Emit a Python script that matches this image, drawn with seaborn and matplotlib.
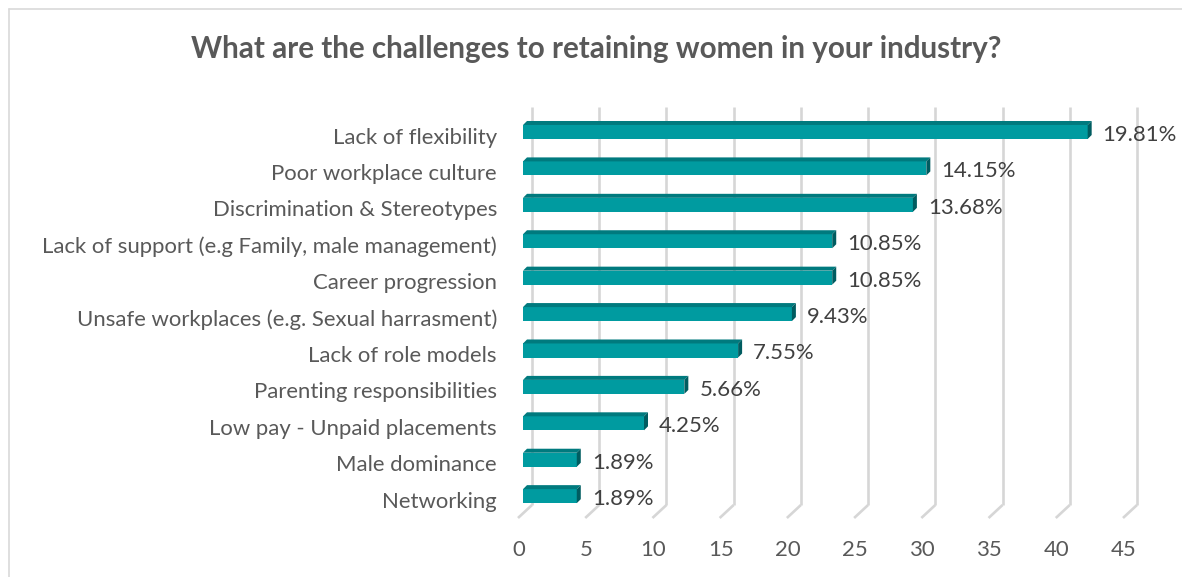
import matplotlib
matplotlib.use("Agg")
import matplotlib.pyplot as plt
import seaborn as sns
import pandas as pd
from matplotlib.transforms import offset_copy, blended_transform_factory
from matplotlib.patches import Polygon
from matplotlib.lines import Line2D

# ---------------- data ----------------
categories = [
    "Lack of flexibility",
    "Poor workplace culture",
    "Discrimination & Stereotypes",
    "Lack of support (e.g Family, male management)",
    "Career progression",
    "Unsafe workplaces (e.g. Sexual harrasment)",
    "Lack of role models",
    "Parenting responsibilities",
    "Low pay - Unpaid placements",
    "Male dominance",
    "Networking",
]
counts = [42, 30, 29, 23, 23, 20, 16, 12, 9, 4, 4]
percent_labels = ["19.81%", "14.15%", "13.68%", "10.85%", "10.85%", "9.43%",
                  "7.55%", "5.66%", "4.25%", "1.89%", "1.89%"]
xticks = [0, 5, 10, 15, 20, 25, 30, 35, 40, 45]
title = "What are the challenges to retaining women in your industry?"

# ---------------- style ----------------
FRONT = "#009BA0"
TOP = "#007A7E"
SIDE = "#005C60"
GRID = "#D6D6D6"
TXT = "#595959"
VAL = "#404040"
FS = 15.9

sns.set_theme(style="white")
plt.rcParams["font.family"] = ["Lato", "DejaVu Sans"]

W, H = 1182, 577
fig = plt.figure(figsize=(W / 100, H / 100), dpi=100)
fig.patch.set_facecolor("white")

ax_left, ax_right = 523, 1128
ax_top, ax_bottom = 119, 518
ax = fig.add_axes([ax_left / W, (H - ax_bottom) / H,
                   (ax_right - ax_left) / W, (ax_bottom - ax_top) / H])

df = pd.DataFrame({"category": categories, "count": counts})
sns.barplot(data=df, y="category", x="count", orient="h", color=FRONT,
            saturation=1, width=0.385, ax=ax, zorder=3, linewidth=0)
ax.set_xlim(0, 45)
ax.set_ylim(10.60, -0.357)
ax.axis("off")

# back-wall gridlines and floor diagonals (oblique 3D look)
DX_BACK, DY_BACK = 9, 13      # back plane offset (pixels, right/up)
DX_FRONT = -5                 # front floor offset
y_floor_front = H - ax_bottom
y_floor_back = y_floor_front + DY_BACK
y_top_back = H - 107
for v in xticks:
    xd, _ = ax.transData.transform((v, 0))
    fig.add_artist(Line2D([xd + DX_BACK, xd + DX_BACK], [y_floor_back, y_top_back],
                          transform=None, color=GRID, lw=1.9, zorder=1,
                          solid_capstyle="butt"))
    fig.add_artist(Line2D([xd + DX_FRONT, xd + DX_BACK], [y_floor_front, y_floor_back],
                          transform=None, color=GRID, lw=1.9, zorder=1,
                          solid_capstyle="butt"))
    fig.text(xd - 4, y_floor_front - 32, str(v), transform=None, ha="center",
             va="center", fontsize=FS, color=TXT)

# 3D faces on the bars
DEP_X, DEP_Y = 4, 4
for patch in ax.patches:
    x0, y0 = patch.get_x(), patch.get_y()
    w, h = patch.get_width(), patch.get_height()
    (px0, py_a) = ax.transData.transform((x0, y0))
    (px1, py_b) = ax.transData.transform((x0 + w, y0 + h))
    ytop = max(py_a, py_b)
    ybot = min(py_a, py_b)
    top = Polygon([(px0, ytop), (px1, ytop), (px1 + DEP_X, ytop + DEP_Y),
                   (px0 + DEP_X, ytop + DEP_Y)], closed=True, transform=None,
                  facecolor=TOP, edgecolor="none", zorder=4)
    side = Polygon([(px1, ybot), (px1 + DEP_X, ybot + DEP_Y),
                    (px1 + DEP_X, ytop + DEP_Y), (px1, ytop)], closed=True,
                   transform=None, facecolor=SIDE, edgecolor="none", zorder=4)
    fig.add_artist(top)
    fig.add_artist(side)
    patch.set_zorder(5)

ax.set_zorder(3)

# category labels
trans_lab = offset_copy(blended_transform_factory(ax.transAxes, ax.transData),
                        fig=fig, x=-26, y=-5.5, units="dots")
for i, c in enumerate(categories):
    ax.text(0, i, c, transform=trans_lab, ha="right", va="center",
            fontsize=FS, color=TXT, clip_on=False)

# value labels
trans_val = offset_copy(ax.transData, fig=fig, x=15, y=-3, units="dots")
for i, (v, lab) in enumerate(zip(counts, percent_labels)):
    ax.text(v, i, lab, transform=trans_val, ha="left", va="center",
            fontsize=FS, color=VAL, clip_on=False)

# title
fig.text(596 / W, 1 - 49 / H, title, ha="center", va="center",
         fontsize=21.3, fontweight="bold", color=TXT)

# chart-area border (top and left edges visible)
fig.add_artist(Line2D([8.5, 8.5], [0, H - 8.5], transform=None, color="#D9D9D9", lw=1.2))
fig.add_artist(Line2D([8.5, W], [H - 8.5, H - 8.5], transform=None, color="#D9D9D9", lw=1.2))

fig.savefig("out.png", dpi=100)
